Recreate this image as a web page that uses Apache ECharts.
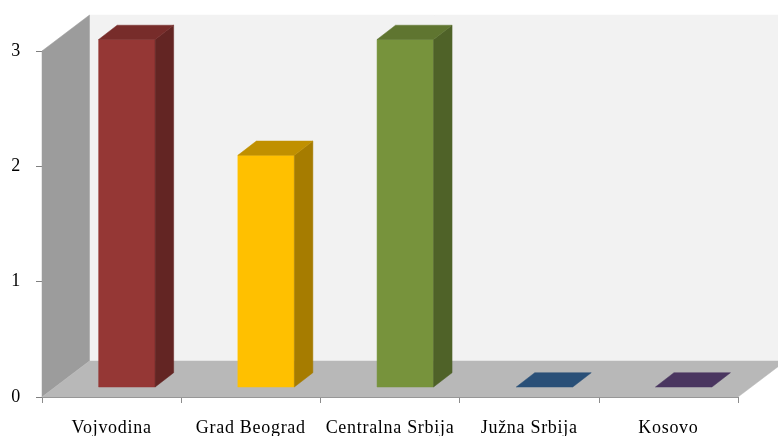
<!DOCTYPE html>
<html><head><meta charset="utf-8">
<style>html,body{margin:0;padding:0;background:#fff}#c{width:778px;height:436px}</style>
<script src="https://cdn.jsdelivr.net/npm/echarts@6/dist/echarts.min.js"></script>
</head><body><div id="c"></div>
<script>
const categories = ['Vojvodina','Grad Beograd','Centralna Srbija','Južna Srbija','Kosovo'];
const values = [3,2,3,0,0];
const frontColors = ['#953735','#ffc000','#77933c','#254a75','#403152'];
const topColors = ['#772c2a','#c09000','#5f7530','#2a5078','#4a3660'];
const sideColors = ['#632523','#a67c00','#4f6228','#254a75','#403152'];

const DEPTH_X = 47.5, DEPTH_Y = 36;
const BAR_OFF_X = 15.3, BAR_OFF_Y = 10;
const BAR_DX = 18.5, BAR_DY = 14.3;
const BAR_W = 56.5;
const BAR_SCALE = 1.0043;

// letter spacing of the reference's labels
const origGetContext = HTMLCanvasElement.prototype.getContext;
HTMLCanvasElement.prototype.getContext = function(type, opts){
  const ctx = origGetContext.call(this, type, opts);
  if (type === '2d' && ctx && 'letterSpacing' in ctx) ctx.letterSpacing = '0.7px';
  return ctx;
};

const chart = echarts.init(document.getElementById('c'), null, {renderer:'canvas'});
function poly(points, fill, stroke){
  return {type:'polygon', shape:{points}, style:{fill, stroke: stroke||fill, lineWidth: stroke?1:0.5}, silent:true};
}
chart.setOption({
  animation:false,
  backgroundColor:'#ffffff',
  grid:{left:42,right:40,top:51,bottom:39,containLabel:false,outerBoundsMode:'none'},
  xAxis:{type:'category',data:categories,
    axisLine:{show:true,lineStyle:{color:'#8c8c8c',width:1}},
    axisTick:{show:true,alignWithLabel:false,length:6,lineStyle:{color:'#8c8c8c'}},
    axisLabel:{fontFamily:'Liberation Serif',fontSize:18,color:'#000',margin:22,interval:0},
    splitLine:{show:false}},
  yAxis:{type:'value',min:0,max:3,interval:1,
    axisLine:{show:true,lineStyle:{color:'#a6a6a6',width:1}},
    axisTick:{show:true,length:6,lineStyle:{color:'#7f7f7f'}},
    axisLabel:{fontFamily:'Liberation Serif',fontSize:18,color:'#000',margin:21},
    splitLine:{show:false}},
  series:[
    {type:'custom',coordinateSystem:'cartesian2d',clip:false,z:1,silent:true,
     data:[[0,0]],
     renderItem(params,api){
       const cs=params.coordSys;
       const l=cs.x, r=cs.x+cs.width, t=cs.y, b=cs.y+cs.height;
       return {type:'group',children:[
         poly([[l+DEPTH_X,t-DEPTH_Y],[r+DEPTH_X,t-DEPTH_Y],[r+DEPTH_X,b-DEPTH_Y],[l+DEPTH_X,b-DEPTH_Y]],'#f2f2f2'),
         poly([[l,t],[l+DEPTH_X,t-DEPTH_Y],[l+DEPTH_X,b-DEPTH_Y],[l,b]],'#9c9c9c'),
         poly([[l,b],[l+DEPTH_X,b-DEPTH_Y],[r+DEPTH_X,b-DEPTH_Y],[r,b]],'#b8b8b8')
       ]};
     }},
    {type:'custom',coordinateSystem:'cartesian2d',clip:false,z:2,silent:true,
     data:categories.map((c,i)=>[i,values[i]]),
     encode:{x:0,y:1},
     renderItem(params,api){
       const i=api.value(0), v=api.value(1);
       const base=api.coord([i,0]), top=api.coord([i,v]);
       const x0=base[0]-BAR_W/2+BAR_OFF_X, x1=x0+BAR_W;
       const yb=base[1]-BAR_OFF_Y, yt=yb-(base[1]-top[1])*BAR_SCALE;
       const kids=[];
       if(v>0){
         kids.push(poly([[x0,yb],[x1,yb],[x1,yt],[x0,yt]],frontColors[i]));
         kids.push(poly([[x1,yb],[x1+BAR_DX,yb-BAR_DY],[x1+BAR_DX,yt-BAR_DY],[x1,yt]],sideColors[i]));
       }
       kids.push(poly([[x0,yt],[x1,yt],[x1+BAR_DX,yt-BAR_DY],[x0+BAR_DX,yt-BAR_DY]],topColors[i]));
       return {type:'group',children:kids};
     }}
  ]
});
</script></body></html>
